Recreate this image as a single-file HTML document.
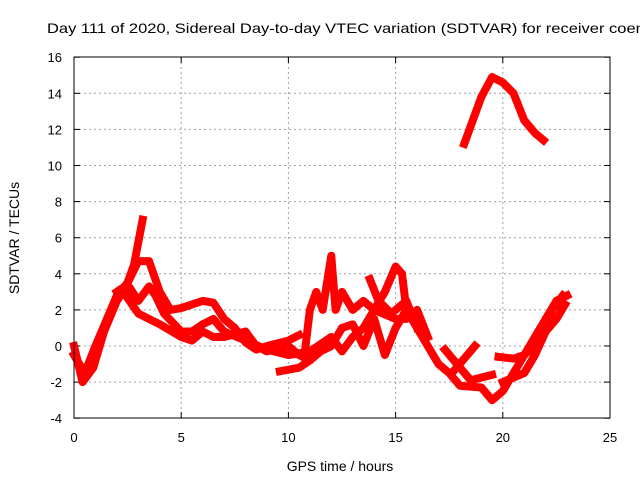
<!DOCTYPE html>
<html><head><meta charset="utf-8"><style>
body{margin:0;background:#fff;overflow:hidden}
svg{display:block;font-family:"Liberation Sans",sans-serif;font-size:13px}
</style></head><body>
<svg id="chart" width="640" height="480" viewBox="0 0 640 480">
<text x="47" y="33" fill="#000" font-size="14" textLength="607" lengthAdjust="spacingAndGlyphs">Day 111 of 2020, Sidereal Day-to-day VTEC variation (SDTVAR) for receiver coenp</text>
<text transform="translate(19,238) rotate(-90)" text-anchor="middle" font-size="14">SDTVAR / TECUs</text>
<text x="340" y="471" text-anchor="middle" font-size="14">GPS time / hours</text>
<g id="grid"></g>
<g id="ticks"></g>
<g id="series"></g>
<rect x="74" y="57" width="536" height="361" fill="none" stroke="#000" stroke-width="1"/>
</svg>
<script>
const xTicks=[0,5,10,15,20,25];
const yTicks=[-4,-2,0,2,4,6,8,10,12,14,16];
const trace1=[[0,0],[0.4,-2],[0.9,-1.2],[1.4,0.8],[2,2.5],[2.4,3.2],[2.8,4.5],[3.2,7]];
const trace2=[[0,-0.5],[0.5,-1.5],[1,0],[2,2.8],[2.5,3.5],[3,4.7],[3.5,4.7],[4,3],[4.5,2],[5,2.1],[6,2.5],[6.5,2.4],[7,1.5],[7.5,1],[8,0.2],[8.5,-0.2],[9,0],[10,0.3],[10.5,0.6]];
const trace3=[[2,3],[2.5,3.4],[3,2.5],[3.5,3.3],[3.8,2.8],[4.2,1.8],[5,0.8],[5.5,0.8],[6,1.2],[6.5,1.5],[7,0.8],[8,0.3],[9,-0.2],[10,-0.5],[11,-0.3],[12,0.5],[12.5,-0.3],[13,0.5],[13.5,1],[14,2],[15,1.5],[15.5,1.5],[16,2],[16.5,0.5]];
const trace4=[[2.3,3],[3,1.8],[4,1.2],[5,0.5],[5.5,0.3],[6,0.8],[6.5,0.5],[7,0.5],[8,0.8],[8.5,0],[9,-0.3],[10,0],[10.5,-0.5],[11,-0.8],[11.5,-0.2]];
const trace5=[[9.6,-1.4],[10.5,-1.2],[11,-0.8],[11.5,-0.3],[12,0],[12.5,1],[13,1.2],[13.5,0],[14,1.5],[14.5,-0.5],[15,1],[15.5,2]];
const trace6=[[10.8,0],[11,2],[11.3,3],[11.6,2],[12,5],[12.2,2],[12.5,3],[13,2],[13.5,2.5],[14,2],[14.5,3],[15,4.4],[15.3,4],[15.5,2],[16,1],[17,-1],[17.5,-1.5],[18,-2.2],[19,-2.3],[19.5,-3],[20,-2.5],[20.5,-1.5],[21,-0.5],[21.5,0.5],[22,1.5],[22.5,2.5],[23,2.8]];
const trace7=[[13.8,3.7],[14.2,2.5],[14.8,1.8],[15.5,2.5],[16,1]];
const trace8=[[17.3,-0.2],[18.5,-1.9],[19.5,-1.6]];
const trace9=[[18.7,0],[17.7,-1.4]];
const trace10=[[19.8,-0.6],[20.5,-0.7],[21,-0.5],[21.5,0],[22,1],[22.3,2],[22.8,2.8]];
const trace11=[[20,-2],[21,-1.5],[21.5,-0.5],[22,0.8],[22.5,1.5],[22.9,2.3]];
const trace12=[[18.2,11.2],[18.6,12.5],[19,13.8],[19.5,14.9],[20,14.6],[20.5,14],[21,12.5],[21.5,11.8],[21.9,11.4]];
const allTraces=[trace1,trace2,trace3,trace4,trace5,trace6,trace7,trace8,trace9,trace10,trace11,trace12];
const X=h=>74+h*(536/25);
const Y=v=>346-v*(361/20);
const NS="http://www.w3.org/2000/svg";
const grid=document.getElementById('grid'),ticks=document.getElementById('ticks'),ser=document.getElementById('series');
function mk(tag,attrs,parent){const e=document.createElementNS(NS,tag);for(const k in attrs)e.setAttribute(k,attrs[k]);parent.appendChild(e);return e;}
xTicks.forEach(t=>{const x=X(t);
 if(t>0&&t<25){const g=mk('line',{x1:x,x2:x,y1:57,y2:418,stroke:'#a0a0a0','stroke-dasharray':'2,3'},grid);
 
 }
 mk('line',{x1:x,x2:x,y1:418,y2:412,stroke:'#000'},ticks);mk('line',{x1:x,x2:x,y1:57,y2:63,stroke:'#000'},ticks);
 const l=mk('text',{x:x,y:442,'text-anchor':'middle'},ticks);l.textContent=t;
 
 });
yTicks.forEach(t=>{const y=Y(t);
 if(t>-4&&t<16){const g=mk('line',{x1:74,x2:610,y1:y,y2:y,stroke:'#a0a0a0','stroke-dasharray':'2,3'},grid);
 
 }
 mk('line',{x1:74,x2:80,y1:y,y2:y,stroke:'#000'},ticks);mk('line',{x1:610,x2:604,y1:y,y2:y,stroke:'#000'},ticks);
 const l=mk('text',{x:62,y:y+5,'text-anchor':'end'},ticks);l.textContent=t;
 
 });
allTraces.forEach(tr=>{const p=mk('polyline',{points:tr.map(d=>X(d[0])+','+Y(d[1])).join(' '),fill:'none',stroke:'#ff0000','stroke-width':8,'stroke-linejoin':'round','stroke-linecap':'square'},ser);
 
 });
</script>
</body></html>
